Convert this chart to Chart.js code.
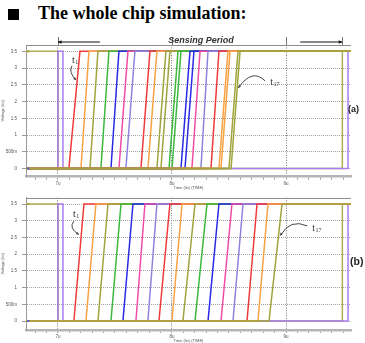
<!DOCTYPE html>
<html>
<head>
<meta charset="utf-8">
<script src="https://cdn.jsdelivr.net/npm/chart.js@4.4.1/dist/chart.umd.min.js"></script>
<style>
body { margin:0; background:#fff; width:365px; height:343px; overflow:hidden; position:relative; }
#bullet { position:absolute; left:8px; top:9px; width:11px; height:11px; background:#000; }
#head { position:absolute; left:38px; top:3px; font:bold 18px "Liberation Serif", serif; color:#000; white-space:nowrap; }
canvas { position:absolute; left:0; }
#chartA { top:30px; }
#chartB { top:190px; }
.tag { position:absolute; font-family:"Liberation Sans", sans-serif; font-weight:bold; color:#222; }
</style>
</head>
<body>
<div id="bullet"></div>
<div id="head">The whole chip simulation:</div>
<canvas id="chartA" width="365" height="160"></canvas>
<canvas id="chartB" width="365" height="153"></canvas>
<div class="tag" style="left:348px;top:104px;font-size:9px">(a)</div>
<div class="tag" style="left:350px;top:255px;font-size:10.5px">(b)</div>
<script>
// ---- data (time in µs, voltage in V) ----
const X_MIN = 6.72, X_MAX = 9.57;
const V_HIGH = 3.5;

const traceLabels = ['t1','t2','t3','t4','t5','t6','t7','t8','t9','t10','t11','t12','t13','t14','t15','t16','t17'];
const traceColors = ['#f03a3a','#f7a243','#a0a43c','#3cb83c','#2a2ae6','#f04ca6','#8c84dc',
                     '#f03a3a','#f7a243','#a0a43c','#3cb83c','#2a2ae6','#f04ca6','#8c84dc',
                     '#f03a3a','#f7a243','#a0a43c'];

// panel (a): where each output leaves 0 V and where it reaches 3.5 V
const riseStartA = [7.096,7.202,7.281,7.377,7.465,7.535,7.596,7.728,7.789,7.868,7.974,8.079,8.175,8.254,8.342,8.412,8.500];
const riseEndA   = [7.193,7.272,7.351,7.447,7.535,7.614,7.675,7.807,7.868,7.947,8.053,8.158,8.246,8.316,8.412,8.491,8.579];
// panel (a): second (corner) run where a trace shows doubled, null if single
const riseStartA2 = [null,null,null,null,null,null,null,null,null,7.903,8.000,8.114,null,null,null,8.430,8.518];
const riseEndA2   = [null,null,null,null,null,null,null,null,null,7.982,8.079,8.193,null,null,null,8.509,8.597];
// panel (b)
const riseStartB = [7.140,7.246,7.351,7.465,7.570,7.684,7.789,7.886,8.000,8.096,8.202,8.316,8.430,8.535,8.658,8.754,8.851];
const riseEndB   = [7.228,7.333,7.439,7.553,7.658,7.763,7.868,7.982,8.088,8.202,8.307,8.412,8.526,8.623,8.746,8.842,8.965];

// control signals (same in both panels)
const resetEdges  = [7.0, 9.494];          // olive: high -> low -> high
const enableEdges = [7.0, 7.044, 9.544];   // purple: low -> short pulse -> low -> high

const yTicks      = [0, 0.5, 1, 1.5, 2, 2.5, 3, 3.5];
const yTickLabels = ['0', '500m', '1', '1.5', '2', '2.5', '3', '3.5'];
const xMajor      = [7, 8, 9];
const xMajorLabels = ['7u', '8u', '9u'];

// minor ticks every 0.1u along the time axis
const xTickValues = [];
for (let k = 68; k <= 95; k++) xTickValues.push(k / 10);

function isMajor(v) { return xMajor.indexOf(Math.round(v * 10) / 10) >= 0; }

function rise(label, start, end, color, order) {
  return {
    label: label, order: order, borderColor: color, borderWidth: 1.5,
    data: [{x:X_MIN,y:0},{x:start,y:0},{x:end,y:V_HIGH},{x:X_MAX,y:V_HIGH}]
  };
}

function buildDatasets(starts, ends, starts2, ends2) {
  const V = V_HIGH, r = resetEdges, e = enableEdges;
  const sets = [];
  sets.push({
    label: 'reset', order: 100, borderColor: '#aeae55', borderWidth: 1.5,
    data: [{x:X_MIN,y:V},{x:r[0],y:V},{x:r[0],y:0},{x:r[1],y:0},{x:r[1],y:V},{x:X_MAX,y:V}]
  });
  sets.push({
    label: 'enable', order: 99, borderColor: '#a97cf0', borderWidth: 1.5,
    data: [{x:X_MIN,y:0},{x:e[0],y:0},{x:e[0],y:V},{x:e[1],y:V},{x:e[1],y:0},{x:e[2],y:0},{x:e[2],y:V},{x:X_MAX,y:V}]
  });
  starts.forEach((s, i) => {
    sets.push(rise(traceLabels[i], s, ends[i], traceColors[i], 40 - 2 * i));
    if (starts2 && starts2[i] != null) {
      sets.push(rise(traceLabels[i] + "'", starts2[i], ends2[i], traceColors[i], 39 - 2 * i));
    }
  });
  // cursor markers at the left edge
  sets.push({
    label: 'markers', order: 0, showLine: false, pointStyle: 'rect', pointRadius: 1.5,
    pointBackgroundColor: ['#4a5ae0', '#a8a845'], pointBorderWidth: 0,
    data: [{x:6.74,y:0},{x:6.74,y:V}]
  });
  return sets;
}

function drawArrowHead(ctx, x0, y0, x1, y1, size) {
  const ang = Math.atan2(y1 - y0, x1 - x0);
  ctx.beginPath();
  ctx.moveTo(x1, y1);
  ctx.lineTo(x1 - size * Math.cos(ang - 0.45), y1 - size * Math.sin(ang - 0.45));
  ctx.lineTo(x1 - size * Math.cos(ang + 0.45), y1 - size * Math.sin(ang + 0.45));
  ctx.closePath();
  ctx.fill();
}

// frame line, "Sensing Period" header and t1/t17 call-outs
const decor = {
  id: 'decor',
  afterDraw(chart, args, o) {
    const {ctx, chartArea: a, scales: {x, y}} = chart;
    const px = v => x.getPixelForValue(v), py = v => y.getPixelForValue(v);
    ctx.save();
    ctx.strokeStyle = '#8c8c8c';
    ctx.lineWidth = 1;
    ctx.beginPath();
    ctx.moveTo(a.left, Math.round(a.top) + 0.5);
    ctx.lineTo(a.right, Math.round(a.top) + 0.5);
    ctx.stroke();

    if (o.header) {
      const h = o.header;
      ctx.strokeStyle = '#777';
      h.bars.forEach(v => {
        const bx = Math.round(px(v)) + 0.5;
        ctx.beginPath(); ctx.moveTo(bx, a.top - 8); ctx.lineTo(bx, a.top); ctx.stroke();
      });
      ctx.strokeStyle = '#111'; ctx.fillStyle = '#111'; ctx.lineWidth = 1.2;
      const ya = a.top - 3;
      [h.leftArrow, h.rightArrow].forEach(ar => {
        const x0 = px(ar[0]), x1 = px(ar[1]);
        ctx.beginPath(); ctx.moveTo(x0, ya); ctx.lineTo(x1, ya); ctx.stroke();
        drawArrowHead(ctx, x0, ya, x1, ya, 4);
      });
      ctx.fillStyle = '#333';
      ctx.font = 'italic bold 9px "Liberation Sans"';
      ctx.textAlign = 'center';
      ctx.textBaseline = 'alphabetic';
      ctx.fillText(h.text, px(h.at), a.top - 2);
    }

    (o.notes || []).forEach(n => {
      ctx.fillStyle = '#333';
      ctx.strokeStyle = '#333';
      ctx.lineWidth = 0.9;
      ctx.textAlign = 'left';
      ctx.textBaseline = 'middle';
      const lx = px(n.at[0]), ly = py(n.at[1]);
      ctx.font = '10px "Liberation Serif"';
      ctx.fillText('t', lx, ly);
      const tw = ctx.measureText('t').width;
      ctx.font = '6px "Liberation Serif"';
      ctx.fillText(n.sub, lx + tw + 0.5, ly + 2.5);
      const x0 = px(n.from[0]), y0 = py(n.from[1]);
      const cx = px(n.ctrl[0]), cy = py(n.ctrl[1]);
      const x1 = px(n.to[0]), y1 = py(n.to[1]);
      ctx.beginPath(); ctx.moveTo(x0, y0); ctx.quadraticCurveTo(cx, cy, x1, y1); ctx.stroke();
      drawArrowHead(ctx, cx, cy, x1, y1, 3);
    });
    ctx.restore();
  }
};

function makeChart(id, datasets, yMin, yMax, padTop, xHeight, notes, header) {
  return new Chart(document.getElementById(id), {
    type: 'line',
    data: { datasets: datasets },
    options: {
      responsive: false,
      animation: false,
      events: [],
      layout: { padding: { top: padTop, right: 14, left: 0, bottom: 0 } },
      elements: { point: { radius: 0 }, line: { tension: 0 } },
      plugins: { legend: { display: false }, tooltip: { enabled: false }, decor: { notes: notes, header: header } },
      scales: {
        x: {
          type: 'linear', min: X_MIN, max: X_MAX,
          afterBuildTicks: s => { s.ticks = xTickValues.map(v => ({ value: v })); },
          afterFit: s => { s.height = xHeight; },
          ticks: {
            autoSkip: false, maxRotation: 0, padding: 1, color: '#555',
            font: { size: 4.5, family: 'Liberation Sans' },
            callback: v => { const k = xMajor.indexOf(Math.round(v * 10) / 10); return k >= 0 ? xMajorLabels[k] : ''; }
          },
          grid: { color: c => isMajor(c.tick.value) ? '#7a7a7a' : 'rgba(0,0,0,0)', tickColor: '#a0a0a0', tickLength: 3 },
          border: { color: '#b5b5b5', width: 2.5, dash: [1, 1.5] },
          title: { display: true, text: 'Time (lin) (TIME)', color: '#555', font: { size: 4, family: 'Liberation Sans' }, padding: { top: 1, bottom: 0 } }
        },
        y: {
          min: yMin, max: yMax,
          afterBuildTicks: s => { s.ticks = yTicks.map(v => ({ value: v })); },
          afterFit: s => { s.width = 26; },
          ticks: {
            autoSkip: false, padding: 5, color: '#555',
            font: { size: 4.5, family: 'Liberation Sans' },
            callback: v => yTickLabels[yTicks.indexOf(v)]
          },
          grid: { color: '#a0a0a0', tickColor: '#999', tickLength: 4 },
          border: { color: '#9a9a9a', width: 1, dash: [1, 1] },
          title: { display: true, text: 'Voltage (lin)', color: '#555', font: { size: 4, family: 'Liberation Sans' }, padding: { top: 0, bottom: 2 } }
        }
      }
    },
    plugins: [decor]
  });
}

makeChart('chartA', buildDatasets(riseStartA, riseEndA, riseStartA2, riseEndA2), -0.245, 3.69, 15, 13.3,
  [
    { sub: '1',  at: [7.123, 3.245], from: [7.123, 3.066], ctrl: [7.090, 2.886], to: [7.158, 2.647] },
    { sub: '17', at: [8.862, 2.572], from: [8.817, 2.617], ctrl: [8.704, 3.006], to: [8.582, 2.408] }
  ],
  { text: 'Sensing Period', at: 8.254, leftArrow: [7.368, 7.0], rightArrow: [9.125, 9.494], bars: [7.0, 8, 9, 9.494] }
);

makeChart('chartB', buildDatasets(riseStartB, riseEndB, null, null), -0.268, 3.69, 2.7, 13,
  [
    { sub: '1',  at: [7.132, 3.191], from: [7.140, 2.989], ctrl: [7.090, 2.788], to: [7.184, 2.586] },
    { sub: '17', at: [9.231, 2.773], from: [9.187, 2.845], ctrl: [9.038, 3.076], to: [8.950, 2.557] }
  ],
  null
);
</script>
</body>
</html>
